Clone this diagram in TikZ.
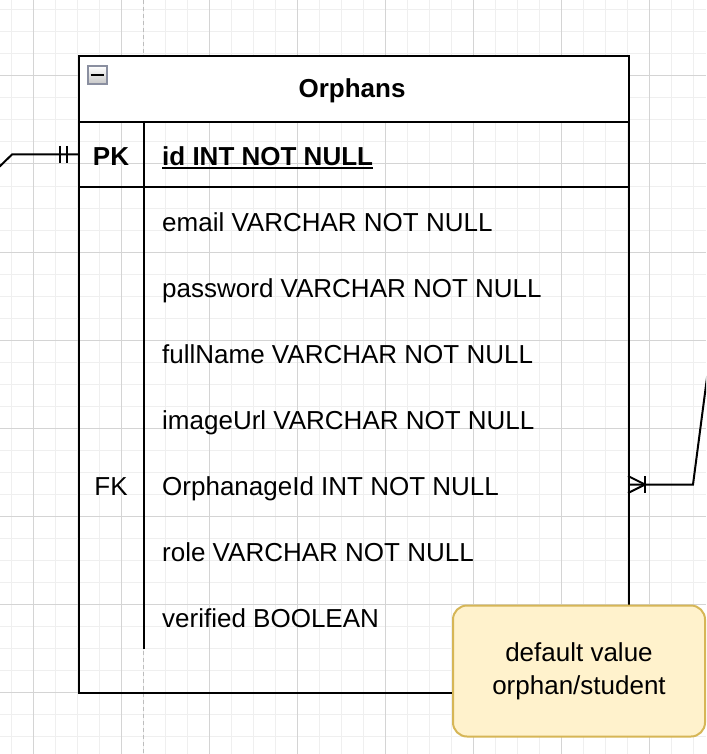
\documentclass[tikz,border=0pt]{standalone}
\usepackage{fontspec}
\setmainfont{Liberation Sans}
\definecolor{gridminor}{HTML}{EFEFEF}
\definecolor{gridmajor}{HTML}{D4D4D4}
\definecolor{notefill}{HTML}{FFF2CC}
\definecolor{notedraw}{HTML}{D6B656}
\definecolor{guide}{HTML}{BDBDBD}
\definecolor{iconline}{HTML}{8A8FA0}
\newcommand{\rowfont}{\fontsize{26}{33}\selectfont}
\tikzset{
  fieldtxt/.style={anchor=base west, inner sep=0pt, font=\rowfont},
  keytxt/.style={anchor=base, inner sep=0pt, font=\rowfont},
  boldtxt/.style={font={\rowfont\bfseries}},
  frame/.style={draw=black, line width=2pt},
  rel/.style={draw=black, line width=2pt},
}
\begin{document}
\begin{tikzpicture}[x=1pt,y=-1pt]
\useasboundingbox (0,0) rectangle (706,754);
\clip (0,0) rectangle (706,754);
\fill[white] (0,0) rectangle (706,754);
% grid
\foreach \x in {11,33,...,704} \draw[gridminor, line width=1pt] (\x,0) -- (\x,754);
\foreach \y in {10,32,...,754} \draw[gridminor, line width=1pt] (0,\y) -- (706,\y);
\foreach \x in {33,121,...,706} \draw[gridmajor, line width=1pt] (\x,0) -- (\x,754);
\foreach \y in {76,164,...,754} \draw[gridmajor, line width=1pt] (0,\y) -- (706,\y);
% page guide
\draw[guide, line width=1.5pt, dash pattern=on 4pt off 3pt] (143.5,0) -- (143.5,754);
% table
\node[frame, fill=white, minimum width=550pt, minimum height=66pt, inner sep=0pt, anchor=north west] (hdr) at (78,55) {};
\node[frame, minimum width=550pt, minimum height=637pt, inner sep=0pt, anchor=north west] (tbl) at (78,55) {};
\draw[frame] (78,187) -- (628,187);
\draw[frame] (143.5,121) -- (143.5,649);
% collapse icon
\node[draw=iconline, line width=1.5pt, top color=white, bottom color=gray!45, minimum width=19pt, minimum height=18pt, inner sep=0pt, anchor=north west] (collapse) at (87,65.5) {};
\draw[black, line width=2pt] ([xshift=3.5pt]collapse.west) -- ([xshift=-3.5pt]collapse.east);
% title
\node[keytxt, boldtxt] (title) at (352,98) {Orphans};
% key row
\node[keytxt, boldtxt] (pk) at (111,165) {PK};
\node[fieldtxt, boldtxt] (idf) at (162,165) {id INT NOT NULL};
\draw[black, line width=2pt] ([yshift=-3pt]idf.base west) -- ([yshift=-3pt]idf.base east);
% fields
\node[fieldtxt] (email) at (162,231) {email VARCHAR NOT NULL};
\node[fieldtxt] (password) at (162,297) {password VARCHAR NOT NULL};
\node[fieldtxt] (fullname) at (162,363) {fullName VARCHAR NOT NULL};
\node[fieldtxt] (imageurl) at (162,429) {imageUrl VARCHAR NOT NULL};
\node[keytxt] (fk) at (111,495) {FK};
\node[fieldtxt] (orphanage) at (162,495) {OrphanageId INT NOT NULL};
\node[fieldtxt] (role) at (162,561) {role VARCHAR NOT NULL};
\node[fieldtxt] (verified) at (162,627) {verified BOOLEAN};
% left relation (one and only one)
\coordinate (lstart) at (-3,169);
\coordinate (lbend) at (12,154.5);
\coordinate (pkend) at (78,154.5);
\draw[rel] (lstart) -- (lbend) -- (pkend);
\draw[rel] ([xshift=-18pt,yshift=8.5pt]pkend) -- ([xshift=-18pt,yshift=-8.5pt]pkend);
\draw[rel] ([xshift=-11pt,yshift=8.5pt]pkend) -- ([xshift=-11pt,yshift=-8.5pt]pkend);
% right relation (one or many)
\coordinate (fkend) at (628,484.5);
\coordinate (rbend) at (693,484.5);
\coordinate (rstart) at (708,370);
\coordinate (crow) at (645,484.5);
\draw[rel] (fkend) -- (rbend) -- (rstart);
\draw[rel] ([yshift=8.5pt]fkend) -- (crow) -- ([yshift=-8.5pt]fkend);
\draw[rel] ([yshift=8.5pt]crow) -- ([yshift=-8.5pt]crow);
% note
\node[draw=notedraw, fill=notefill, line width=2pt, rounded corners=14pt, minimum width=252pt, minimum height=131pt, inner sep=0pt, align=center, font=\rowfont] (note) at (579,671) {default value\\orphan/student};
\end{tikzpicture}
\end{document}
